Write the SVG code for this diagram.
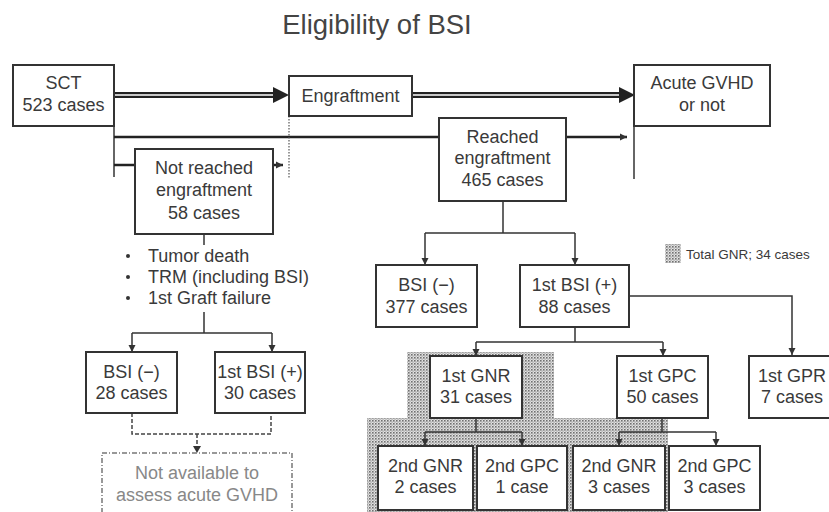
<svg xmlns="http://www.w3.org/2000/svg" width="829" height="512" viewBox="0 0 829 512">
<defs>
<pattern id="dots" width="3" height="3" patternUnits="userSpaceOnUse">
<rect width="3" height="3" fill="#e2e2e2"/>
<rect x="0" y="0" width="1.6" height="1.6" fill="#707070"/>
<rect x="1.5" y="1.5" width="1.2" height="1.2" fill="#999"/>
</pattern>
<marker id="ah" markerWidth="8" markerHeight="8" refX="7" refY="4" orient="auto" markerUnits="userSpaceOnUse">
<path d="M0,0.5 L7,4 L0,7.5 Z" fill="#333"/>
</marker>
</defs>
<style>
text{font-family:"Liberation Sans",Arial,sans-serif;fill:#3a3a3a;font-size:18px;text-anchor:middle}
.box{fill:#fff;stroke:#333;stroke-width:2}
.dbox{fill:#fff;stroke:#777;stroke-width:1.5;stroke-dasharray:5 2 1 2}
.ln{fill:none;stroke:#333;stroke-width:1.5}
.thick{fill:none;stroke:#222;stroke-width:2.5}
.dash{fill:none;stroke:#444;stroke-width:1.5;stroke-dasharray:4 2}
.dot{fill:none;stroke:#555;stroke-width:1.2;stroke-dasharray:1.5 1.5}
.dbl{fill:none;stroke:#222;stroke-width:6}
.dblw{fill:none;stroke:#fff;stroke-width:1.6}
.gray{fill:#888}
.small{font-size:13.5px;text-anchor:start}
</style>

<text x="377" y="34" style="font-size:27.5px;fill:#444">Eligibility of BSI</text>

<g id="shade">
<path d="M407,352 L554,352 L554,418 L668,418 L668,512 L367,512 L367,418 L407,418 Z" fill="url(#dots)"/>
</g>

<g id="legend">
<rect x="665" y="244" width="16" height="19" fill="url(#dots)"/>
<text class="small" x="686" y="259">Total GNR; 34 cases</text>
</g>

<g id="connectors">
<path class="dbl" d="M114,95 L276,95"/>
<path class="dblw" d="M114,95 L278,95"/>
<path d="M273,87 L289,95 L273,103 Z" fill="#222"/>
<path class="dbl" d="M412,95 L622,95"/>
<path class="dblw" d="M412,95 L624,95"/>
<path d="M619,87 L635,95 L619,103 Z" fill="#222"/>
<path class="ln" d="M114,126 L114,177"/>
<path class="thick" d="M114,137 L439,137"/>
<path class="thick" d="M566,137 L627,137" marker-end="url(#ah)"/>
<path class="ln" d="M634,126 L634,179"/>
<path class="thick" d="M114,165 L135,165"/>
<path class="thick" d="M273,165 L283,165" marker-end="url(#ah)"/>
<path class="dot" d="M289,116 L289,179"/>
<path class="ln" d="M204,234 L204,245"/>
<path class="ln" d="M204,312 L204,333 M132,333 L272,333"/>
<path class="ln" d="M132,333 L132,352" marker-end="url(#ah)"/>
<path class="ln" d="M272,333 L272,352" marker-end="url(#ah)"/>
<path class="dash" d="M132,413 L132,434 L271,434 L271,413 M197,434 L197,447"/>
<path d="M193,446 L197,453 L201,446 Z" fill="#333"/>
<path class="ln" d="M503,201 L503,233 M425,233 L575,233"/>
<path class="ln" d="M425,233 L425,265" marker-end="url(#ah)"/>
<path class="ln" d="M575,233 L575,265" marker-end="url(#ah)"/>
<path class="ln" d="M629,296 L792,296 L792,355" marker-end="url(#ah)"/>
<path class="ln" d="M575,327 L575,342 M476,342 L663,342"/>
<path class="ln" d="M476,342 L476,356" marker-end="url(#ah)"/>
<path class="ln" d="M663,342 L663,356" marker-end="url(#ah)"/>
<path class="ln" d="M476,418 L476,432 M425,432 L522,432"/>
<path class="ln" d="M425,432 L425,446" marker-end="url(#ah)"/>
<path class="ln" d="M522,432 L522,446" marker-end="url(#ah)"/>
<path class="ln" d="M662,418 L662,432 M619,432 L716,432"/>
<path class="ln" d="M619,432 L619,446" marker-end="url(#ah)"/>
<path class="ln" d="M716,432 L716,446" marker-end="url(#ah)"/>
</g>

<g id="sct">
<rect class="box" x="13" y="65" width="101" height="61"/>
<text x="63.5" y="89">SCT</text>
<text x="63.5" y="111">523 cases</text>
</g>
<g id="engraftment">
<rect class="box" x="289" y="76" width="123" height="40"/>
<text x="350.5" y="102">Engraftment</text>
</g>
<g id="agvhd">
<rect class="box" x="634" y="65" width="136" height="61"/>
<text x="702" y="89">Acute GVHD</text>
<text x="702" y="111">or not</text>
</g>
<g id="notreached">
<rect class="box" x="135" y="149" width="138" height="85"/>
<text x="204" y="174">Not reached</text>
<text x="204" y="196">engraftment</text>
<text x="204" y="219">58 cases</text>
</g>
<g id="reasons">
<circle cx="128" cy="256" r="2" fill="#333"/>
<circle cx="128" cy="277" r="2" fill="#333"/>
<circle cx="128" cy="298" r="2" fill="#333"/>
<text x="148" y="262" style="text-anchor:start">Tumor death</text>
<text x="148" y="283" style="text-anchor:start">TRM (including BSI)</text>
<text x="148" y="304" style="text-anchor:start">1st Graft failure</text>
</g>
<g id="reached">
<rect class="box" x="439" y="118" width="127" height="83"/>
<text x="502.5" y="143">Reached</text>
<text x="502.5" y="164">engraftment</text>
<text x="502.5" y="186">465 cases</text>
</g>
<g id="bsineg377">
<rect class="box" x="376" y="265" width="101" height="62"/>
<text x="426.5" y="291">BSI (−)</text>
<text x="426.5" y="313">377 cases</text>
</g>
<g id="bsipos88">
<rect class="box" x="520" y="265" width="109" height="62"/>
<text x="574.5" y="291">1st BSI (+)</text>
<text x="574.5" y="313">88 cases</text>
</g>
<g id="bsineg28">
<rect class="box" x="86" y="352" width="91" height="61"/>
<text x="131.5" y="378">BSI (−)</text>
<text x="131.5" y="399">28 cases</text>
</g>
<g id="bsipos30">
<rect class="box" x="215" y="352" width="90" height="61"/>
<text x="260" y="378">1st BSI (+)</text>
<text x="260" y="399">30 cases</text>
</g>
<g id="notavail">
<rect class="dbox" x="102" y="453" width="190" height="70"/>
<text class="gray" x="197" y="479">Not available to</text>
<text class="gray" x="197" y="501">assess acute GVHD</text>
</g>
<g id="gnr1">
<rect class="box" x="430" y="356" width="92" height="62"/>
<text x="476" y="382">1st GNR</text>
<text x="476" y="403">31 cases</text>
</g>
<g id="gpc1">
<rect class="box" x="617" y="356" width="91" height="62"/>
<text x="662.5" y="382">1st GPC</text>
<text x="662.5" y="403">50 cases</text>
</g>
<g id="gpr1">
<rect class="box" x="749" y="356" width="90" height="62"/>
<text x="792" y="382">1st GPR</text>
<text x="792" y="403">7 cases</text>
</g>
<g id="gnr2a">
<rect class="box" x="378" y="446" width="95" height="64"/>
<text x="425.5" y="472">2nd GNR</text>
<text x="425.5" y="493">2 cases</text>
</g>
<g id="gpc2a">
<rect class="box" x="477" y="446" width="90" height="64"/>
<text x="522" y="472">2nd GPC</text>
<text x="522" y="493">1 case</text>
</g>
<g id="gnr2b">
<rect class="box" x="573" y="446" width="92" height="64"/>
<text x="619" y="472">2nd GNR</text>
<text x="619" y="493">3 cases</text>
</g>
<g id="gpc2b">
<rect class="box" x="669" y="446" width="91" height="64"/>
<text x="714.5" y="472">2nd GPC</text>
<text x="714.5" y="493">3 cases</text>
</g>
</svg>
